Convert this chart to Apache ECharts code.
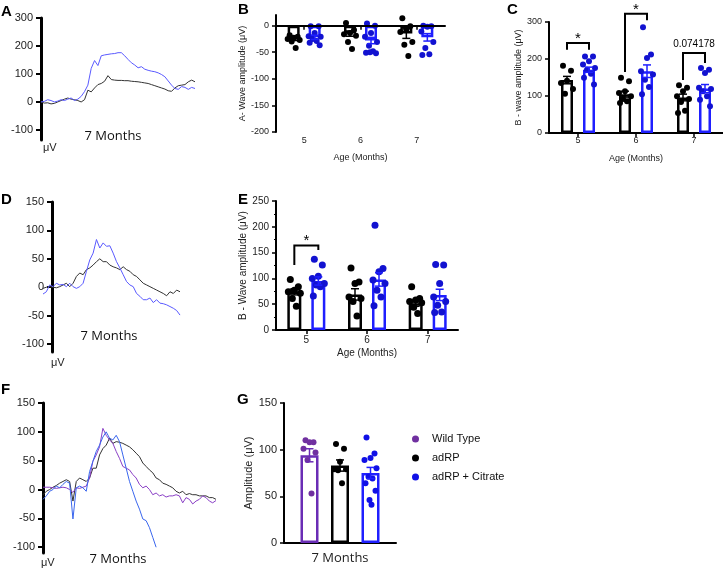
<!DOCTYPE html>
<html><head><meta charset="utf-8">
<script src="https://cdn.jsdelivr.net/npm/echarts@6/dist/echarts.min.js"></script>
<style>html,body{margin:0;padding:0;background:#fff}#c{width:723px;height:568px}</style>
</head><body><div id="c"></div>
<script>
// ---------- DATA ----------
// Panel A traces (uV), uniform time samples
const aBlack = [0,-4,-3,-7,-5,0,5,10,14,10,8,5,0,8,42,36,50,62,66,74,94,80,78,77,77,76,76,74,73,72,70,68,66,62,58,54,50,46,40,38,50,58,60,62,72,78,72];
const aBlue  = [0,2,8,5,0,3,8,5,10,14,5,10,20,37,60,120,148,130,165,168,170,172,173,176,176,165,152,140,132,122,126,117,113,110,108,104,98,90,75,60,48,45,55,52,45,52,48];
const aTicks = [-100,0,100,200,300];
// Panel D traces
const dBlack = [-2,0,1,0,-1,1,4,7,1,7,19,25,22,31,34,39,45,50,45,45,39,36,34,31,36,31,28,22,19,13,7,4,1,-2,-5,-8,-11,-15,-8,-11,-5,-8];
const dBlue  = [-12,-8,4,1,7,4,5,1,7,1,-2,1,7,28,48,60,84,69,78,72,73,60,45,34,22,10,4,1,-11,-16,-22,-22,-19,-27,-22,-28,-29,-31,-34,-37,-41,-49];
const dTicks = [-100,-50,0,50,100,150];
// Panel F traces
const fPurple = [4,4,4,3,2,3,4,3,0,-5,3,2,4,6,20,49,60,74,106,94,86,80,66,54,40,37,34,26,20,9,3,6,0,-9,-6,-11,-9,-13,-11,-11,-9,-11,-23,-14,-17,-25,-20,-17,-11,-14,-20,-23,-19];
const fBlack  = [-9,-3,0,4,7,11,14,17,14,-20,14,20,17,14,20,37,37,60,71,77,89,80,83,82,80,77,74,69,63,57,46,40,34,29,20,17,11,9,6,3,-3,-6,-3,-9,-7,-9,-9,-11,-11,-11,-14,-14,-17];
const fBlue   = [-17,-11,-3,0,6,3,9,14,11,-51,3,6,3,-3,31,49,66,77,91,100,89,86,94,83,60,37,14,-3,-20,-34,-51,-54,-66,-83,-100];
const fTicks = [-100,-50,0,50,100,150];

const ages = ['5','6','7'];
// Panel B: A-wave amplitude
const bBlackMean = [-25,-15,-15], bBlackSem = [3,5,9];
const bBlueMean  = [-22,-28,-22], bBlueSem  = [4,6,7];
const bBlackPts = [[-18,-21,-23,-25,-27,-30,-42],[5,-8,-14,-16,-19,-31,-44],[14,-1,-8,-12,-31,-36,-57]];
const bBluePts  = [[-1,-1,-14,-20,-21,-25,-29,-32,-37],[4,0,-14,-21,-31,-38,-48,-51,-52,-50],[0,-1,-2,-11,-31,-42,-54,-55]];
const bTicks = [-200,-150,-100,-50,0];
// Panel C: B-wave amplitude
const cBlackMean = [143,105,96], cBlackSem = [10,8,9];
const cBlueMean  = [171,167,120], cBlueSem  = [7,17,11];
const cBlackPts = [[182,168,141,135,119,106],[149,140,113,108,99,92,86,81],[129,122,113,99,92,84,60,54]];
const cBluePts  = [[207,207,194,185,176,171,160,149,131],[286,212,203,167,158,144,124,105],[176,171,162,122,119,113,99,90,72]];
const cBrackets = [[0,243,225,225,'*'],[1,322,165,305,'*'],[2,216,143,189,'0.074178']];
// Panel E
const eBlackMean = [74,69,52], eBlackSem = [6,11,6];
const eBlueMean  = [95,98,68], eBlueSem  = [8,13,11];
const eBlackPts = [[98,84,77,74,71,61,46],[120,93,90,64,61,55,27],[84,61,58,55,53,44,32]];
const eBluePts  = [[137,126,104,100,90,87,84,66],[203,119,113,97,90,77,64,47],[127,126,90,64,55,48,35,34]];
const eBrackets = [[0,164,126,155,'*']];
// Panel G
const gCats = ['7 Months'];
const gNames = ['Wild Type','adRP','adRP + Citrate'];
const gMean = [94,83,75], gSem = [7,6,6];
const gPts = [[110,108,108,101,97,89,53],[106,101,87,79,79,78,64],[113,96,91,89,80,71,69,64,56,46,41]];

// ---------- STYLE ----------
const AR = 'Liberation Sans, Arial, sans-serif';
const OS = 'Open Sans, Noto Sans, sans-serif';
const BLUE_BAR = '#1f1fff', BLUE_DOT = '#1212d0';
const JIT = [-4,4,0,-6,6,-2,2,-5,5,-1,1,-3,3];

const grids=[], xAxes=[], yAxes=[], series=[];

function traceY(gi,min,max,ticks,show){
  return {type:'value',gridIndex:gi,min:min,max:max,show:show,
    axisLine:{show:true,onZero:false,lineStyle:{color:'#000',width:3}},
    axisTick:{show:true,length:5,lineStyle:{color:'#000',width:2},customValues:ticks},
    axisLabel:{fontSize:11,color:'#222',fontFamily:AR,margin:8,customValues:ticks},
    splitLine:{show:false}};
}
function hiddenX(gi,min,max){return {type:'value',gridIndex:gi,min:min,max:max,show:false};}
function lineS(gi,arr,color){
  return {type:'line',xAxisIndex:gi,yAxisIndex:gi,showSymbol:false,silent:true,
    data:arr.map((v,i)=>[i,v]),lineStyle:{color:color,width:1},z:3};
}

// Panel A
grids.push({left:41,top:18,width:154,height:122});
xAxes.push(hiddenX(0,0,46)); yAxes.push(traceY(0,-136,300,aTicks,true));
series.push(lineS(0,aBlack,'#333'), lineS(0,aBlue,'#5a5aff'));

// bar panel helper
function barPanel(gi,g,cats,yCfg,xName,yName,groups,bw,gap,fs){
  grids.push(g);
  xAxes.push({type:'category',gridIndex:gi,data:cats,
    axisLine:{lineStyle:{color:'#000',width:2}},
    axisTick:{show:xName!==null,alignWithLabel:true,length:4,lineStyle:{color:'#000',width:1.5}},
    axisLabel:{fontSize:fs.x,color:'#222',fontFamily:fs.xf||AR,margin:fs.xm},
    name:xName||'',nameLocation:'middle',nameGap:fs.xg,nameTextStyle:{fontSize:fs.x,color:'#222',fontFamily:AR}});
  yAxes.push(Object.assign({type:'value',gridIndex:gi,
    axisLine:{show:true,onZero:false,lineStyle:{color:'#000',width:2}},
    axisTick:{show:true,length:4,lineStyle:{color:'#000',width:1.5},customValues:yCfg.ticks},
    axisLabel:{fontSize:fs.y,color:'#222',fontFamily:AR,margin:7,customValues:yCfg.ticks},
    splitLine:{show:false},
    name:yName,nameLocation:'middle',nameGap:fs.yg,nameTextStyle:{fontSize:fs.yn||fs.y,color:'#222',fontFamily:AR}},yCfg.axis));
  const n = groups.length, step = bw+gap;
  groups.forEach((gr,k)=>{
    const off = (k-(n-1)/2)*step;
    series.push({type:'bar',name:gr.barName,xAxisIndex:gi,yAxisIndex:gi,data:gr.mean,barWidth:bw,barGap:(gap/bw*100)+'%',
      itemStyle:{color:'#fff',borderColor:gr.color,borderWidth:2.5},silent:true,z:2,
      markLine: gr.zeroLine?{silent:true,symbol:'none',label:{show:false},lineStyle:{color:'#000',width:2,type:'solid'},data:[{yAxis:0}]}:undefined});
    const sd=[];
    gr.pts.forEach((arr,c)=>arr.forEach((v,j)=>sd.push({value:[c,v],symbolOffset:[off+JIT[j%JIT.length],0]})));
    series.push({type:'scatter',name:gr.dotName,xAxisIndex:gi,yAxisIndex:gi,data:sd,symbolSize:fs.dot||6,
      itemStyle:{color:gr.dot,opacity:1},silent:true,z:4});
    series.push({type:'custom',xAxisIndex:gi,yAxisIndex:gi,silent:true,z:5,clip:false,
      data:gr.mean.map((m,i)=>[i,m,gr.sem[i]]),
      renderItem:function(p,api){
        const c=api.value(0),m=api.value(1),s=api.value(2);
        const lo=api.coord([c,m-s]),hi=api.coord([c,m+s]);
        const x=lo[0]+off,cw=4,st={stroke:gr.color,lineWidth:1.5};
        return {type:'group',children:[
          {type:'line',shape:{x1:x,y1:lo[1],x2:x,y2:hi[1]},style:st},
          {type:'line',shape:{x1:x-cw,y1:lo[1],x2:x+cw,y2:lo[1]},style:st},
          {type:'line',shape:{x1:x-cw,y1:hi[1],x2:x+cw,y2:hi[1]},style:st}]};
      }});
  });
  return step/2;
}
function bracketS(gi,half,items){
  series.push({type:'custom',xAxisIndex:gi,yAxisIndex:gi,silent:true,z:6,clip:false,
    data:items.map(it=>[it[0],it[1]]),
    renderItem:function(p,api){
      const it=items[p.dataIndex];
      const t=api.coord([it[0],it[1]]),l=api.coord([it[0],it[2]]),r=api.coord([it[0],it[3]]);
      const xl=t[0]-half,xr=t[0]+half,star=it[4]==='*';
      return {type:'group',children:[
        {type:'polyline',shape:{points:[[xl,l[1]],[xl,t[1]],[xr,t[1]],[xr,r[1]]]},style:{stroke:'#000',lineWidth:2,fill:'none'}},
        {type:'text',x:t[0],y:star?t[1]+3:t[1]-4,style:{text:it[4],fontSize:star?15:10,fontFamily:AR,fill:'#000',align:'center',verticalAlign:'bottom'}}]};
    }});
}

// Panel B (grid 1)
barPanel(1,{left:276,top:15,width:169,height:117},ages,{ticks:bTicks,axis:{min:-200,max:20}},'Age (Months)','A- Wave amplitude (μV)',
  [{barName:'adRP B',dotName:'adRP B dots',color:'#000',dot:'#000',mean:bBlackMean,sem:bBlackSem,pts:bBlackPts,zeroLine:true},
   {barName:'citrate B',dotName:'citrate B dots',color:BLUE_BAR,dot:BLUE_DOT,mean:bBlueMean,sem:bBlueSem,pts:bBluePts}],
  12,9,{x:9,y:9,xm:4,xg:21,yg:28});
// Panel C (grid 2)
const cHalf = barPanel(2,{left:549,top:22,width:174,height:111},ages,{ticks:[0,100,200,300],axis:{min:0,max:300}},'Age (Months)','B - wave amplitude (μV)',
  [{barName:'adRP C',dotName:'adRP C dots',color:'#000',dot:'#000',mean:cBlackMean,sem:cBlackSem,pts:cBlackPts},
   {barName:'citrate C',dotName:'citrate C dots',color:BLUE_BAR,dot:BLUE_DOT,mean:cBlueMean,sem:cBlueSem,pts:cBluePts}],
  12,10,{x:9,y:9,xm:3,xg:21,yg:20});
bracketS(2,cHalf,cBrackets);

// Panel D (grid 3 axis, grid 4 traces)
grids.push({left:52,top:202,width:1,height:150});
xAxes.push(hiddenX(3,0,1)); yAxes.push(traceY(3,-114,150,dTicks,true));
grids.push({left:43,top:202,width:137,height:150});
xAxes.push(hiddenX(4,0,41)); yAxes.push(Object.assign(traceY(4,-114,150,dTicks,false)));
series.push(lineS(4,dBlack,'#333'), lineS(4,dBlue,'#5a5aff'));

// Panel E (grid 5)
const eHalf = barPanel(5,{left:276,top:201,width:182,height:129},ages,{ticks:[0,50,100,150,200,250],axis:{min:0,max:250,interval:50,minorTick:{show:true,splitNumber:2,length:2,lineStyle:{color:'#000',width:1}}}},'Age (Months)','B - Wave amplitude (μV)',
  [{barName:'adRP E',dotName:'adRP E dots',color:'#000',dot:'#000',mean:eBlackMean,sem:eBlackSem,pts:eBlackPts},
   {barName:'citrate E',dotName:'citrate E dots',color:BLUE_BAR,dot:BLUE_DOT,mean:eBlueMean,sem:eBlueSem,pts:eBluePts}],
  14,10,{x:10,y:10,xm:5,xg:18,yg:27,dot:7});
bracketS(5,eHalf,eBrackets);

// Panel F (grid 6)
grids.push({left:43,top:403,width:173,height:150});
xAxes.push(hiddenX(6,0,52)); yAxes.push(traceY(6,-110,150,fTicks,true));
series.push(lineS(6,fBlack,'#333'), lineS(6,fPurple,'#8a3fc6'), lineS(6,fBlue,'#3a66ee'));

// Panel G (grid 7)
barPanel(7,{left:284,top:403,width:112,height:140},gCats,{ticks:[0,50,100,150],axis:{min:0,max:150}},null,'Amplitude (μV)',
  [{barName:'WT bar',dotName:gNames[0],color:'#6a2db5',dot:'#7030a0',mean:[gMean[0]],sem:[gSem[0]],pts:[gPts[0]]},
   {barName:'adRP bar',dotName:gNames[1],color:'#000',dot:'#000',mean:[gMean[1]],sem:[gSem[1]],pts:[gPts[1]]},
   {barName:'citrate bar',dotName:gNames[2],color:BLUE_BAR,dot:'#1010e6',mean:[gMean[2]],sem:[gSem[2]],pts:[gPts[2]]}],
  18,12.5,{x:13,xf:OS,y:11,xm:9,xg:20,yg:27,yn:11});

function txt(t,x,y,fs,opts){
  return {type:'text',x:x,y:y,silent:true,style:Object.assign({text:t,fontSize:fs,fontFamily:AR,fill:'#000',align:'left',verticalAlign:'middle'},opts||{})};
}
const graphic = [
  txt('A',1,12,15,{fontWeight:'bold'}), txt('B',238,10,15,{fontWeight:'bold'}), txt('C',507,10,15,{fontWeight:'bold'}),
  txt('D',1,200,15,{fontWeight:'bold'}), txt('E',238,200,15,{fontWeight:'bold'}), txt('F',1,390,15,{fontWeight:'bold'}),
  txt('G',237,400,15,{fontWeight:'bold'}),
  txt('7 Months',113,136,13,{fontFamily:OS,align:'center',fill:'#111'}),
  txt('7 Months',109,336,13,{fontFamily:OS,align:'center',fill:'#111'}),
  txt('7 Months',118,559,13,{fontFamily:OS,align:'center',fill:'#111'}),
  txt('μV',43,148,11,{fill:'#222'}), txt('μV',51,363,11,{fill:'#222'}), txt('μV',41,563,11,{fill:'#222'})
];

const chart = echarts.init(document.getElementById('c'));
chart.setOption({
  animation:false,
  backgroundColor:'#fff',
  grid:grids, xAxis:xAxes, yAxis:yAxes, series:series, graphic:graphic,
  legend:{orient:'vertical',left:407,top:428,icon:'circle',itemWidth:7,itemHeight:7,itemGap:7,
    data:gNames,selectedMode:false,
    textStyle:{fontSize:11,fontFamily:AR,color:'#111',padding:[0,0,0,8],lineHeight:12}}
});
</script></body></html>
